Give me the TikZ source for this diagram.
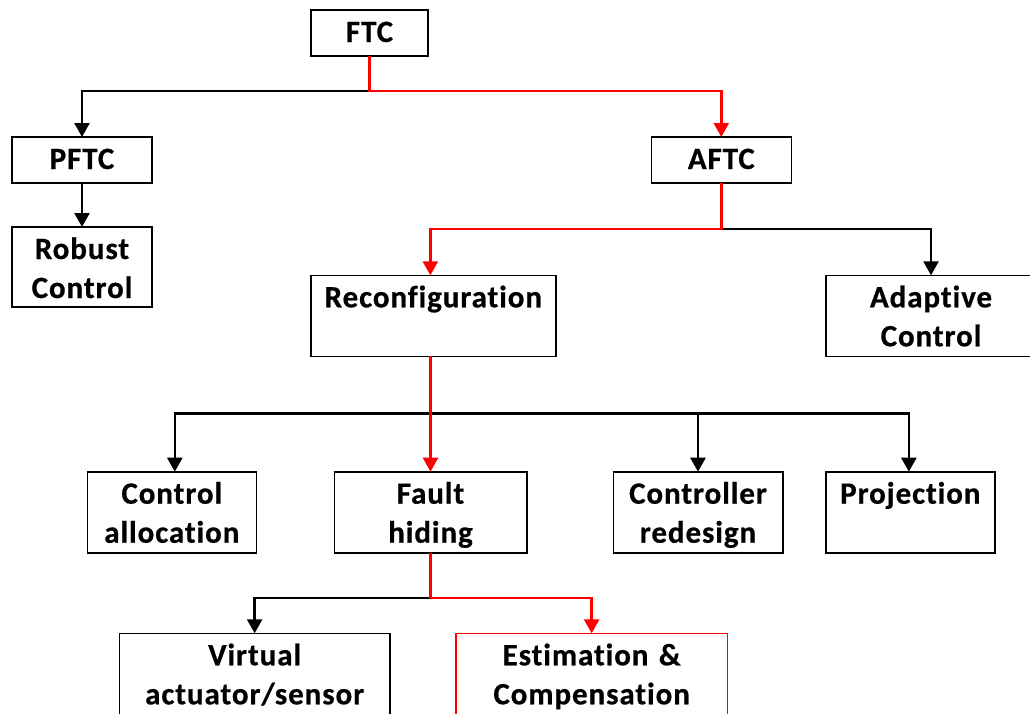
\documentclass[tikz,border=0pt]{standalone}
\usepackage{fontspec}
\setmainfont{Carlito}[Ligatures={NoCommon}, LetterSpace=3, BoldFeatures={FakeBold=0.6}]
\usetikzlibrary{arrows.meta,calc}
\tikzset{
  bx/.style={draw=black, line width=1.6pt, inner sep=0pt, outer sep=0pt, anchor=north west},
  lbl/.style={anchor=north, inner sep=0pt, outer sep=0pt, align=center, font=\fontsize{31}{39}\selectfont\bfseries},
  conn/.style={line width=2.5pt, -{Triangle[length=14pt,width=15pt]}},
}
\newcommand{\fl}{\rule{0pt}{32pt}}
\begin{document}
\begin{tikzpicture}[x=1pt,y=-1pt]
\useasboundingbox (0,0) rectangle (1030,713);
% boxes
\node[bx, minimum width=117pt, minimum height=46pt] (ftc) at (311,10) {};
\node[bx, minimum width=140pt, minimum height=46pt] (pftc) at (12,137) {};
\node[bx, minimum width=140pt, minimum height=80pt] (robust) at (12,227) {};
\node[bx, minimum width=140pt, minimum height=46pt] (aftc) at (651.3,137) {};
\node[bx, minimum width=244.7pt, minimum height=81pt] (reconf) at (311,275.3) {};
\node[bx, minimum width=210pt, minimum height=81pt] (adapt) at (826,275.3) {};
\node[bx, minimum width=169pt, minimum height=81pt] (ca) at (87.3,471.7) {};
\node[bx, minimum width=192.4pt, minimum height=81pt] (fault) at (334.3,471.7) {};
\node[bx, minimum width=169.4pt, minimum height=81pt] (cr) at (613.3,471.7) {};
\node[bx, minimum width=169.3pt, minimum height=81pt] (proj) at (825.7,471.7) {};
\node[bx, minimum width=270.7pt, minimum height=90pt] (virt) at (119.3,633.3) {};
\node[bx, draw=red, minimum width=271.3pt, minimum height=90pt] (est) at (456,633.3) {};
% texts
\node[lbl, text width=140pt] (ftct) at (ftc.north) {\fl FTC};
\node[lbl, text width=160pt] (pftct) at (pftc.north) {\fl PFTC};
\node[lbl, text width=160pt] (robustt) at (robust.north) {\fl Robust\\Control};
\node[lbl, text width=160pt] (aftct) at (aftc.north) {\fl AFTC};
\node[lbl, text width=260pt] (reconft) at (reconf.north) {\fl Reconfiguration};
\node[lbl, text width=210pt] (adaptt) at (adapt.north) {\fl Adaptive\\Control};
\node[lbl, text width=190pt] (cat) at (ca.north) {\fl Control\\allocation};
\node[lbl, text width=192pt] (faultt) at (fault.north) {\fl Fault\\hiding};
\node[lbl, text width=190pt] (crt) at (cr.north) {\fl Controller\\redesign};
\node[lbl, text width=190pt] (projt) at (proj.north) {\fl Projection};
\node[lbl, text width=270pt] (virtt) at (virt.north) {\fl Virtual\\actuator/sensor};
\node[lbl, text width=271pt] (estt) at (est.north) {\fl Estimation \&\\Compensation};
% junctions
\coordinate (j1) at ($(ftc.south)+(0,35)$);
\coordinate (j2) at ($(aftc.south)+(0,46)$);
\coordinate (j3) at ($(fault.north)+(0,-58)$);
\coordinate (j4) at ($(fault.south)+(0,45.5)$);
% black connectors
\draw[conn] (j1) -| (pftc.north);
\draw[conn] (pftc.south) -- (robust.north);
\draw[conn] (j2) -| (adapt.north);
\draw[conn] (j3) -| ([xshift=3pt]ca.north);
\draw[conn] (j3) -| (cr.north);
\draw[conn] (j3) -| ([xshift=-1.5pt]proj.north);
\draw[conn] (j4) -| (virt.north);
% red connectors
\draw[conn, red] (ftc.south) -- (j1) -| (aftc.north);
\draw[conn, red] (aftc.south) -- (j2) -| ([xshift=-3pt]reconf.north);
\draw[conn, red] (fault.north |- reconf.south) -- (fault.north);
\draw[conn, red] (fault.south) -- (j4) -| (est.north);
\end{tikzpicture}
\end{document}
